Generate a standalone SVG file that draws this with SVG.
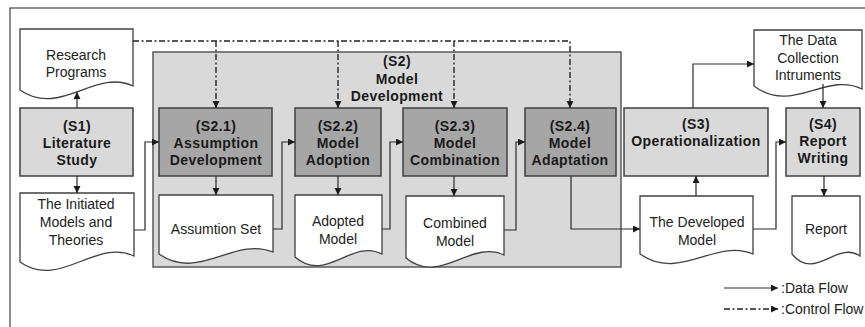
<svg xmlns="http://www.w3.org/2000/svg" width="865" height="327" viewBox="0 0 865 327">
<defs>
<style>
.frame{fill:#ffffff;stroke:#444444;stroke-width:1.2}
.cont{fill:#d9d9d9;stroke:#595959;stroke-width:1.5}
.lbox{fill:#d9d9d9;stroke:#404040;stroke-width:1.5}
.dbox{fill:#a6a6a6;stroke:#404040;stroke-width:1.5}
.doc{fill:#ffffff;stroke:#404040;stroke-width:1.3}
.b{font-family:"Liberation Sans",Arial,sans-serif;font-size:14px;font-weight:bold;fill:#1a1a1a;text-anchor:middle;letter-spacing:0.4px}
.t{font-family:"Liberation Sans",Arial,sans-serif;font-size:14px;fill:#222222;text-anchor:middle}
.lg{font-family:"Liberation Sans",Arial,sans-serif;font-size:14px;fill:#222222}
.df{fill:none;stroke:#2a2a2a;stroke-width:1.2;marker-end:url(#ah)}
.cfa{fill:none;stroke:#222222;stroke-width:1.4;stroke-dasharray:6 2.5 2 2.5;marker-end:url(#ah)}
</style>
<marker id="ah" markerUnits="userSpaceOnUse" markerWidth="8" markerHeight="8" refX="7" refY="3.5" orient="auto">
<path d="M0,0 L7,3.5 L0,7 Z" fill="#1a1a1a"/>
</marker>
</defs>
<rect class="frame" x="10" y="8" width="870" height="330"/>
<g id="S2">
<rect class="cont" x="153" y="52" width="468" height="215"/>
<text class="b" x="397" y="66">(S2)</text>
<text class="b" x="397" y="84">Model</text>
<text class="b" x="397" y="101">Development</text>
</g>
<g id="research-programs">
<path class="doc" d="M20,29 H133 V86 C95,68 60,118 20,90 Z"/>
<text class="t" x="76" y="60">Research</text>
<text class="t" x="76" y="77">Programs</text>
</g>
<g id="S1">
<rect class="lbox" x="20" y="108" width="113" height="68"/>
<text class="b" x="77" y="131">(S1)</text>
<text class="b" x="77" y="148">Literature</text>
<text class="b" x="77" y="165">Study</text>
</g>
<g id="initiated-models">
<path class="doc" d="M20,193 H134 V256 C95,238 60,290 20,262 Z"/>
<text class="t" x="76" y="209">The Initiated</text>
<text class="t" x="76" y="227">Models and</text>
<text class="t" x="76" y="245">Theories</text>
</g>
<g id="S2-1">
<rect class="dbox" x="159" y="108" width="113" height="68"/>
<text class="b" x="216" y="131">(S2.1)</text>
<text class="b" x="216" y="148">Assumption</text>
<text class="b" x="216" y="165">Development</text>
</g>
<g id="assumption-set">
<path class="doc" d="M159,195 H273 V252 C234,236 199,282 159,254 Z"/>
<text class="t" x="216" y="234">Assumtion Set</text>
</g>
<g id="S2-2">
<rect class="dbox" x="295" y="108" width="86" height="68"/>
<text class="b" x="338" y="131">(S2.2)</text>
<text class="b" x="338" y="148">Model</text>
<text class="b" x="338" y="165">Adoption</text>
</g>
<g id="adopted-model">
<path class="doc" d="M295,195 H382 V254 C352,238 326,284 295,257 Z"/>
<text class="t" x="338" y="226">Adopted</text>
<text class="t" x="338" y="244">Model</text>
</g>
<g id="S2-3">
<rect class="dbox" x="403" y="108" width="104" height="68"/>
<text class="b" x="455" y="131">(S2.3)</text>
<text class="b" x="455" y="148">Model</text>
<text class="b" x="455" y="165">Combination</text>
</g>
<g id="combined-model">
<path class="doc" d="M406,196 H504 V255 C471,239 440,286 406,258 Z"/>
<text class="t" x="455" y="228">Combined</text>
<text class="t" x="455" y="246">Model</text>
</g>
<g id="S2-4">
<rect class="dbox" x="525" y="108" width="91" height="68"/>
<text class="b" x="570" y="131">(S2.4)</text>
<text class="b" x="570" y="148">Model</text>
<text class="b" x="570" y="165">Adaptation</text>
</g>
<g id="S3">
<rect class="lbox" x="624" y="108" width="144" height="68"/>
<text class="b" x="696" y="129">(S3)</text>
<text class="b" x="696" y="146">Operationalization</text>
</g>
<g id="developed-model">
<path class="doc" d="M640,196 H753 V254 C715,238 680,282 640,254 Z"/>
<text class="t" x="697" y="227">The Developed</text>
<text class="t" x="697" y="245">Model</text>
</g>
<g id="data-collection">
<path class="doc" d="M754,30 H862 V89 C826,71 792,115 754,86 Z"/>
<text class="t" x="808" y="45">The Data</text>
<text class="t" x="808" y="63">Collection</text>
<text class="t" x="808" y="80">Intruments</text>
</g>
<g id="S4">
<rect class="lbox" x="786" y="108" width="74" height="68"/>
<text class="b" x="823" y="129">(S4)</text>
<text class="b" x="823" y="146">Report</text>
<text class="b" x="823" y="163">Writing</text>
</g>
<g id="report">
<path class="doc" d="M792,196 H860 V256 C837,240 815,282 792,254 Z"/>
<text class="t" x="826" y="234">Report</text>
</g>
<g id="connectors">
<path class="df" d="M77,108 V92"/>
<path class="df" d="M77,176 V193"/>
<path class="df" d="M134,230 H145 V142 H159"/>
<path class="df" d="M216,176 V195"/>
<path class="df" d="M273,229 H282 V142 H295"/>
<path class="df" d="M338,176 V195"/>
<path class="df" d="M382,229 H390 V142 H403"/>
<path class="df" d="M454,176 V196"/>
<path class="df" d="M504,230 H516 V142 H525"/>
<path class="df" d="M571,176 V229 H640"/>
<path class="df" d="M696,196 V176"/>
<path class="df" d="M693,108 V64 H754"/>
<path class="df" d="M823,84 V108"/>
<path class="df" d="M753,229 H776 V142 H786"/>
<path class="df" d="M824,176 V196"/>
<path class="cfa" d="M133,41 H570 V108"/>
<path class="cfa" d="M216,41 V108"/>
<path class="cfa" d="M338,41 V108"/>
<path class="cfa" d="M454,41 V108"/>
</g>
<g id="legend">
<path class="df" d="M724,288 H778"/>
<text class="lg" x="781" y="293">:Data Flow</text>
<path class="cfa" d="M724,309 H778"/>
<text class="lg" x="781" y="314">:Control Flow</text>
</g>
</svg>
